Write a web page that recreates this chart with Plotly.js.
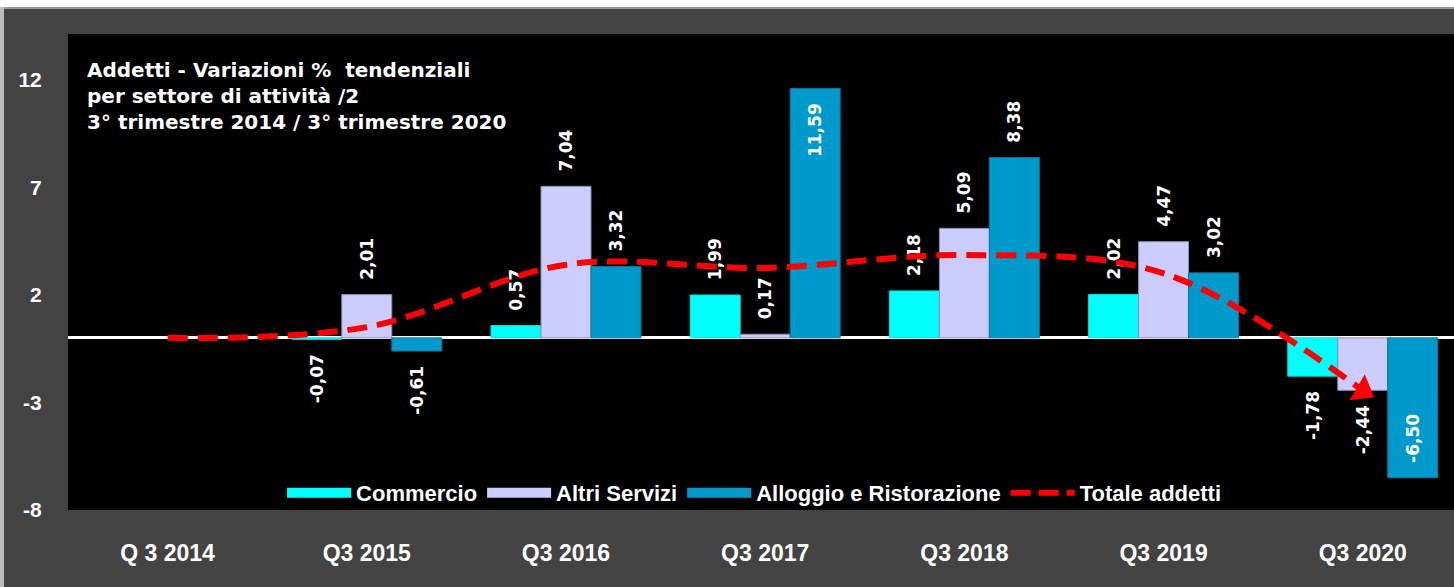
<!DOCTYPE html>
<html>
<head>
<meta charset="utf-8">
<script src="https://cdn.plot.ly/plotly-3.0.1.min.js"></script>
<style>
html,body{margin:0;padding:0;background:#434343;}
#chart{width:1454px;height:587px;}
</style>
</head>
<body>
<div id="chart"></div>
<script>
// ---- data ----
const categories = ['Q 3 2014', 'Q3 2015', 'Q3 2016', 'Q3 2017', 'Q3 2018', 'Q3 2019', 'Q3 2020'];
const seriesNames = ['Commercio', 'Altri Servizi', 'Alloggio e Ristorazione', 'Totale addetti'];
const commercio = [null, -0.07, 0.57, 1.99, 2.18, 2.02, -1.78];
const altriServizi = [null, 2.01, 7.04, 0.17, 5.09, 4.47, -2.44];
const alloggioRistorazione = [null, -0.61, 3.32, 11.59, 8.38, 3.02, -6.50];
const totaleAddetti = [0, 0.5, 3.4, 3.25, 3.85, 3.0, -2.45];
const yTickValues = [-8, -3, 2, 7, 12];
const yTickLabels = ['-8', '-3', '2', '7', '12'];
const titleLines = ['Addetti - Variazioni %  tendenziali', 'per settore di attività /2', '3° trimestre 2014 / 3° trimestre 2020'];

// ---- style ----
const FONT = 'DejaVu Sans, Arial, sans-serif';
const FONT2 = 'Liberation Sans, Arial, sans-serif';
const colors = ['#00FFFF', '#CCCCFF', '#0099CC', '#FF0000'];
const borderColors = ['#00E0E0', '#8C8CB4', '#00799F'];
const PAD = '\u00a0\u00a0';

function barTrace(name, values, idx, insideIdx) {
  const pos = values.map((v, i) => insideIdx.indexOf(i) >= 0 ? 'inside' : 'outside');
  const tf = {family: FONT, size: 17, color: '#FFFFFF', weight: 'bold'};
  return {
    type: 'bar', name: name, x: categories, y: values,
    marker: {color: colors[idx], line: {color: borderColors[idx], width: 1}},
    texttemplate: PAD + '%{y:.2f}' + PAD,
    textposition: pos,
    textangle: -90,
    insidetextanchor: 'end',
    textfont: tf, insidetextfont: tf, outsidetextfont: tf,
    cliponaxis: false,
    constraintext: 'none',
    showlegend: false,
    hoverinfo: 'skip'
  };
}

const traces = [
  barTrace(seriesNames[0], commercio, 0, []),
  barTrace(seriesNames[1], altriServizi, 1, []),
  barTrace(seriesNames[2], alloggioRistorazione, 2, [3, 6]),
  {
    type: 'scatter', mode: 'lines', name: seriesNames[3],
    x: categories, y: totaleAddetti,
    line: {color: colors[3], width: 6, dash: '20px,10px', shape: 'spline', smoothing: 1},
    showlegend: false, hoverinfo: 'skip'
  },
  {
    type: 'scatter', mode: 'markers', name: seriesNames[3] + ' arrow',
    x: categories.slice(-2), y: totaleAddetti.slice(-2),
    marker: {symbol: 'triangle-up', angleref: 'previous', size: [0, 26], color: colors[3], opacity: 1, line: {width: 0}},
    showlegend: false, hoverinfo: 'skip', cliponaxis: false
  }
];

// legend-only entries (wide swatches like the original)
seriesNames.forEach((n, i) => {
  traces.push({
    type: 'scatter', mode: 'lines', name: n, x: [null], y: [null],
    line: i < 3 ? {color: colors[i], width: 14} : {color: colors[3], width: 6, dash: '20px,8px'},
    showlegend: true, hoverinfo: 'skip'
  });
});

const layout = {
  width: 1454, height: 587,
  margin: {l: 68, r: 0, t: 34, b: 77, pad: 0},
  paper_bgcolor: '#434343',
  plot_bgcolor: '#000000',
  separators: ',.',
  barmode: 'group',
  bargap: 0.247,
  bargroupgap: 0,
  showlegend: true,
  legend: {
    orientation: 'h', x: 0.495, xanchor: 'center', y: 0.036, yanchor: 'middle',
    bgcolor: 'rgba(0,0,0,0)', itemwidth: 64, traceorder: 'normal',
    font: {family: FONT2, size: 22, color: '#FFFFFF', weight: 'bold'},
    itemclick: false, itemdoubleclick: false
  },
  xaxis: {
    type: 'category', range: [-0.5, 6.458],
    showgrid: false, zeroline: false, showline: false,
    ticks: 'outside', ticklen: 22, tickcolor: 'rgba(0,0,0,0)',
    tickfont: {family: FONT2, size: 23, color: '#FFFFFF', weight: 'bold'},
    fixedrange: true
  },
  yaxis: {
    range: [-8, 14.12],
    tickmode: 'array', tickvals: yTickValues, ticktext: yTickLabels,
    showgrid: false, showline: false,
    zeroline: true, zerolinecolor: '#FFFFFF', zerolinewidth: 3,
    ticks: 'outside', ticklen: 21, tickcolor: 'rgba(0,0,0,0)',
    tickfont: {family: FONT2, size: 21, color: '#FFFFFF', weight: 'bold'},
    fixedrange: true
  },
  annotations: [{
    xref: 'paper', yref: 'paper', x: 0.0125, y: 0.953, xanchor: 'left', yanchor: 'top',
    align: 'left', showarrow: false,
    text: titleLines.join('<br>'),
    font: {family: FONT, size: 20, color: '#FFFFFF', weight: 'bold'}
  }],
  shapes: [
    {type: 'rect', xref: 'paper', yref: 'paper', x0: -0.06, x1: 1.01, y0: 510/476 - 7/476, y1: 1.1, fillcolor: '#FFFFFF', line: {width: 0}, layer: 'above'},
    {type: 'rect', xref: 'paper', yref: 'paper', x0: -0.06, x1: 1.01, y0: 510/476 - 9/476, y1: 510/476 - 7/476, fillcolor: '#9A9A9A', line: {width: 0}, layer: 'above'},
    {type: 'rect', xref: 'paper', yref: 'paper', x0: -0.06, x1: -68/1386 + 4/1386, y0: -0.2, y1: 510/476 - 7/476, fillcolor: '#BDBDBD', line: {width: 0}, layer: 'above'}
  ]
};

Plotly.newPlot('chart', traces, layout, {displayModeBar: false, staticPlot: true});
</script>
</body>
</html>
